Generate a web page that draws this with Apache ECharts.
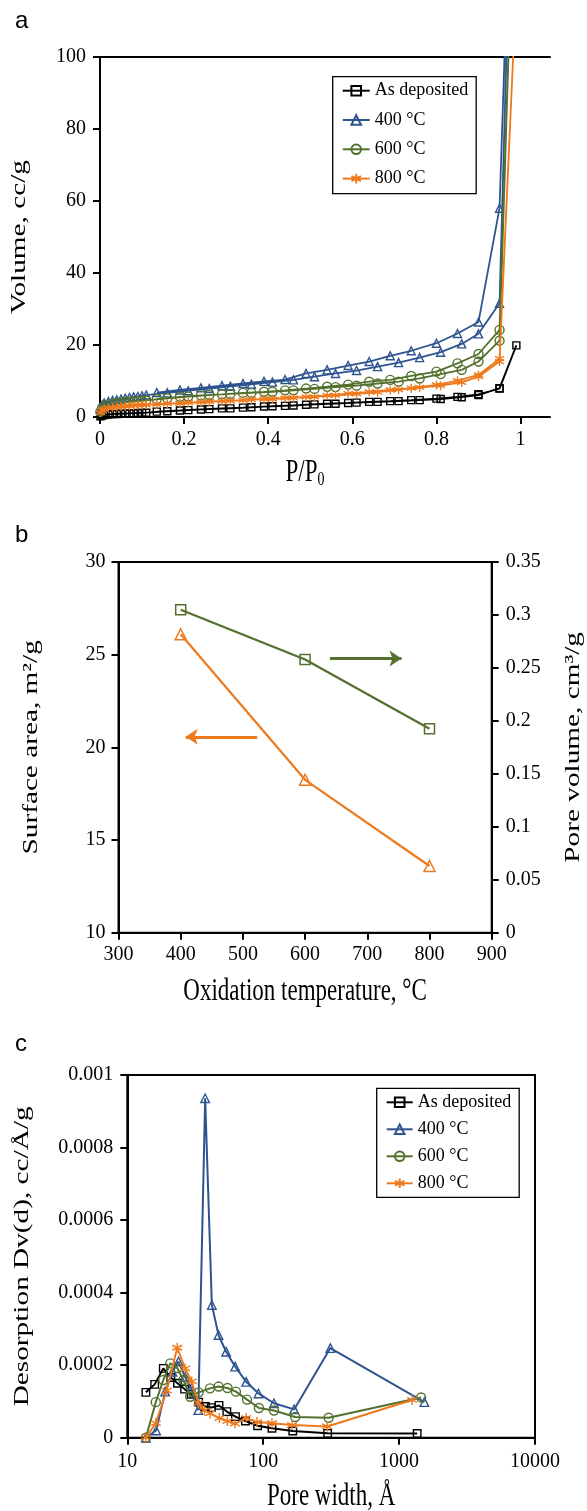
<!DOCTYPE html>
<html>
<head>
<meta charset="utf-8">
<script src="https://cdn.jsdelivr.net/npm/echarts@6/dist/echarts.min.js"></script>
<style>
  html, body { margin: 0; padding: 0; background: #fff; }
  #chart { width: 587px; height: 1511px; }
</style>
</head>
<body>
<div id="chart"></div>
<script>
// ---------- Panel a: N2 isotherms ----------
const adsP = [0.001, 0.005, 0.01, 0.02, 0.03, 0.04, 0.05, 0.06, 0.07, 0.08, 0.09, 0.10, 0.11, 0.16, 0.21, 0.26, 0.31, 0.36, 0.41, 0.46, 0.51, 0.56, 0.61, 0.66, 0.71, 0.76, 0.81, 0.86, 0.90, 0.95, 0.99];
const desP = [0.95, 0.90, 0.85, 0.80, 0.74, 0.69, 0.64, 0.59, 0.54, 0.49, 0.44, 0.39, 0.34, 0.29, 0.24, 0.19, 0.135];

const depAds  = [0.2, 0.4, 0.55, 0.7, 0.8, 0.85, 0.9, 0.95, 1.0, 1.05, 1.1, 1.15, 1.2, 1.6, 1.9, 2.2, 2.4, 2.7, 3.0, 3.2, 3.5, 3.7, 4.0, 4.2, 4.4, 4.7, 5.0, 5.5, 6.1, 8.0, 19.9];
const depDes  = [7.9, 6.3, 5.6, 5.1, 4.7, 4.4, 4.2, 3.9, 3.7, 3.4, 3.1, 2.9, 2.6, 2.4, 2.1, 1.8, 1.5];
const t400Ads = [2.0, 3.3, 3.9, 4.3, 4.6, 4.8, 5.0, 5.2, 5.4, 5.6, 5.7, 5.9, 6.1, 6.7, 7.3, 7.9, 8.5, 9.1, 9.7, 10.3, 11.2, 12.1, 12.9, 14.0, 15.1, 16.5, 18.0, 20.3, 23.1, 31.6, 200];
const t400Des = [58, 26.4, 23.2, 20.5, 18.4, 17.0, 15.4, 14.3, 13.1, 12.1, 10.4, 9.9, 9.3, 8.7, 8.1, 7.5, 6.8];
const t600Ads = [1.5, 2.6, 3.1, 3.5, 3.7, 3.9, 4.0, 4.1, 4.2, 4.3, 4.4, 4.5, 4.6, 5.2, 5.7, 6.1, 6.4, 6.7, 7.0, 7.4, 7.8, 8.3, 8.7, 9.3, 9.8, 10.7, 11.9, 13.1, 15.4, 21.2, 170];
const t600Des = [24.2, 17.5, 14.9, 12.6, 11.4, 10.3, 9.8, 9.0, 8.4, 7.9, 7.4, 7.0, 6.7, 6.3, 6.0, 5.6, 5.0];
const t800Ads = [1.2, 1.9, 2.2, 2.5, 2.7, 2.8, 2.9, 3.0, 3.1, 3.2, 3.3, 3.35, 3.4, 3.7, 4.0, 4.3, 4.5, 4.8, 5.0, 5.3, 5.6, 6.0, 6.4, 6.9, 7.6, 8.2, 8.7, 9.6, 11.2, 15.4, 120];
const t800Des = [16.2, 11.7, 10.1, 8.9, 8.0, 7.5, 7.0, 6.5, 6.0, 5.6, 5.3, 5.0, 4.7, 4.4, 4.1, 3.8, 3.5];

const aXTicks = [0, 0.2, 0.4, 0.6, 0.8, 1];

// ---------- Panel b ----------
const oxTemp = [400, 600, 800];
const surfaceArea = [26.1, 18.25, 13.6];
const poreVolume = [0.305, 0.258, 0.1925];
const arrowRight = [[640, 0.259], [755, 0.259]];   // annotation, right axis units
const arrowLeft  = [[523, 20.57], [408, 20.57]];   // annotation, left axis units

// ---------- Panel c: pore size distribution ----------
const depW  = [13.7, 15.9, 18.4, 20.9, 23.4, 26.4, 29.5, 33.5, 37.5, 41.5, 47.3, 54, 62.5, 74, 91, 116, 165, 298, 1358];
const depDv = [0.000125, 0.000147, 0.000191, 0.000166, 0.000150, 0.000134, 0.000120, 0.000098, 0.000086, 0.000083, 0.000089, 0.000072, 0.000058, 0.000046, 0.000033, 0.000026, 0.0000185, 0.000012, 0.0000115];
const w400  = [13.7, 16.3, 19, 21.5, 23.8, 26.6, 29.5, 33.3, 37.4, 41.9, 46.9, 53.4, 62.2, 75, 92.3, 120, 169, 312, 1535];
const dv400 = [0, 0.00002, 0.000127, 0.000182, 0.00021, 0.000168, 0.000136, 0.000076, 0.000936, 0.000366, 0.000283, 0.000237, 0.000196, 0.000154, 0.000122, 0.000095, 0.000078, 0.000247, 0.000098];
const w600  = [13.7, 16.2, 18.4, 20.7, 23.3, 25.9, 29, 33.5, 40.6, 47, 54.6, 63, 76, 93, 120, 172, 303, 1452];
const dv600 = [0, 0.000098, 0.000159, 0.000205, 0.000192, 0.000159, 0.000113, 0.000125, 0.000136, 0.000141, 0.000137, 0.000127, 0.000105, 0.000082, 0.000075, 0.000057, 0.000055, 0.000111];
const w800  = [13.7, 16.2, 19.5, 23.3, 26.6, 29.8, 33.3, 37, 40.6, 47.6, 54.5, 62, 75, 90, 116, 163, 296, 1247];
const dv800 = [0, 0.00004, 0.00013, 0.000248, 0.000191, 0.000155, 0.000095, 0.000075, 0.000067, 0.000054, 0.000046, 0.000039, 0.000054, 0.000043, 0.00004, 0.000035, 0.000031, 0.000104];

const names = ['As deposited', '400 \u00B0C', '600 \u00B0C', '800 \u00B0C'];

// ---------- styling ----------
const C_BLACK = '#000000', C_BLUE = '#2E5490', C_GREEN = '#53712D', C_ORANGE = '#EE7A1E';
const SERIF = '"Liberation Serif", "Times New Roman", serif';
const SANS = '"Liberation Sans", Arial, sans-serif';
const STAR = 'path://M5,0L5,10M0.7,2.5L9.3,7.5M9.3,2.5L0.7,7.5';
const STRETCH = 1.33;   // the reference text is vertically stretched
const styles = [
  { color: C_BLACK, symbol: 'rect', sizeA: 7, sizeC: 7.5 },
  { color: C_BLUE, symbol: 'triangle', sizeA: 8, sizeC: 8.5 },
  { color: C_GREEN, symbol: 'circle', sizeA: 9, sizeC: 9 },
  { color: C_ORANGE, symbol: STAR, sizeA: 9, sizeC: 10 }
];

function pairs(xs, ys) { return xs.map((x, i) => [x, ys[i]]); }
function iso(ads, des) { return pairs(adsP, ads).concat(pairs(desP, des)); }

const isoData = [iso(depAds, depDes), iso(t400Ads, t400Des), iso(t600Ads, t600Des), iso(t800Ads, t800Des)];
const psdData = [pairs(depW, depDv), pairs(w400, dv400), pairs(w600, dv600), pairs(w800, dv800)];

const axisLine = { show: true, lineStyle: { color: '#000', width: 2 } };
const axisTick = { show: true, length: 7, lineStyle: { color: '#000', width: 2 } };
const labelStyle = { color: '#000', fontFamily: SERIF, fontSize: 20 };

function lineSeries(i, data, xi, yi, size, lw) {
  const s = styles[i];
  return {
    type: 'line', name: names[i], data: data,
    xAxisIndex: xi, yAxisIndex: yi,
    symbol: s.symbol, symbolSize: size, showAllSymbol: true,
    lineStyle: { color: s.color, width: lw },
    itemStyle: { color: 'transparent', borderColor: s.color, borderWidth: 1.4 },
    emphasis: { disabled: true }, z: 3 + i
  };
}

const series = [];
for (let i = 0; i < 4; i++) series.push(lineSeries(i, isoData[i], 0, 0, styles[i].sizeA, 1.8));
series.push({
  type: 'line', name: 'Surface area', xAxisIndex: 2, yAxisIndex: 1,
  data: pairs(oxTemp, surfaceArea), symbol: 'triangle', symbolSize: 11,
  lineStyle: { color: C_ORANGE, width: 2.2 },
  itemStyle: { color: 'transparent', borderColor: C_ORANGE, borderWidth: 1.5 },
  markLine: {
    silent: true, symbol: ['none', 'arrow'], symbolSize: [12, 12],
    lineStyle: { color: C_ORANGE, width: 3, type: 'solid' }, label: { show: false },
    data: [[{ coord: arrowLeft[0] }, { coord: arrowLeft[1] }]]
  }
});
series.push({
  type: 'line', name: 'Pore volume', xAxisIndex: 2, yAxisIndex: 2,
  data: pairs(oxTemp, poreVolume), symbol: 'rect', symbolSize: 10,
  lineStyle: { color: C_GREEN, width: 2.2 },
  itemStyle: { color: 'transparent', borderColor: C_GREEN, borderWidth: 1.5 },
  markLine: {
    silent: true, symbol: ['none', 'arrow'], symbolSize: [12, 12],
    lineStyle: { color: C_GREEN, width: 3, type: 'solid' }, label: { show: false },
    data: [[{ coord: arrowRight[0] }, { coord: arrowRight[1] }]]
  }
});
for (let i = 0; i < 4; i++) series.push(lineSeries(i, psdData[i], 3, 3, styles[i].sizeC, 2));

const legendBase = {
  orient: 'vertical', data: names, backgroundColor: '#fff',
  borderColor: '#000', borderWidth: 1.3,
  itemHeight: 12, selectedMode: false,
  textStyle: { color: '#000', fontFamily: SERIF, fontSize: 18, lineHeight: 20 }
};

// grids (pixel boxes of the three plot areas)
const G = [
  { left: 100, top: 57, width: 450, height: 360 },
  { left: 118.5, top: 562, width: 373.2, height: 370.7 },
  { left: 127.3, top: 1075, width: 407.7, height: 362.7 }
];

// axis titles drawn as stretched text (the reference is vertically stretched)
function hTitle(text, cx, cy, rich) {
  return { type: 'text', x: cx, y: cy, scaleX: 1, scaleY: STRETCH, silent: true,
    style: { text: text, fontFamily: SERIF, fontSize: 23, fill: '#000', align: 'center', verticalAlign: 'middle', rich: rich } };
}
function vTitle(text, cx, cy) {
  return { type: 'text', x: cx, y: cy, rotation: Math.PI / 2, scaleX: STRETCH, scaleY: 1, silent: true,
    style: { text: text, fontFamily: SERIF, fontSize: 22, fill: '#000', align: 'center', verticalAlign: 'middle' } };
}

const titleSub = { s: { fontFamily: SERIF, fontSize: 14, fill: '#000', padding: [10, 0, 0, 0] } };

const option = {
  animation: false,
  backgroundColor: '#fff',
  title: [
    { text: 'a', left: 10, top: 4, textStyle: { fontFamily: SANS, fontSize: 24, fontWeight: 'normal', color: '#000' } },
    { text: 'b', left: 10, top: 518, textStyle: { fontFamily: SANS, fontSize: 24, fontWeight: 'normal', color: '#000' } },
    { text: 'c', left: 10, top: 1027, textStyle: { fontFamily: SANS, fontSize: 24, fontWeight: 'normal', color: '#000' } }
  ],
  graphic: [
    vTitle('Volume, cc/g', 19, G[0].top + G[0].height / 2),
    hTitle('P/P{s|0}', G[0].left + 205, 473, titleSub),
    vTitle('Surface area, m\u00B2/g', 31, G[1].top + G[1].height / 2),
    vTitle('Pore volume, cm\u00B3/g', 573, G[1].top + G[1].height / 2),
    hTitle('Oxidation temperature, \u00B0C', G[1].left + G[1].width / 2, 992),
    vTitle('Desorption Dv(d), cc/\u00C5/g', 22, G[2].top + G[2].height / 2),
    hTitle('Pore width, \u00C5', G[2].left + G[2].width / 2, 1497)
  ],
  legend: [
    Object.assign({}, legendBase, { left: 332.7, top: 76.7, itemWidth: 27, itemGap: 9.3, padding: [4, 8, 5, 9] }),
    Object.assign({}, legendBase, { left: 376.7, top: 1088.3, itemWidth: 26, itemGap: 7, padding: [4, 8, 4, 9] })
  ],
  grid: [
    G[0],
    Object.assign({ show: true, borderColor: '#000', borderWidth: 2 }, G[1]),
    Object.assign({ show: true, borderColor: '#000', borderWidth: 2 }, G[2])
  ],
  xAxis: [
    { gridIndex: 0, type: 'value', min: 0, max: 1.07,
      axisLine: axisLine,
      axisTick: Object.assign({}, axisTick, { customValues: aXTicks }),
      axisLabel: Object.assign({}, labelStyle, { margin: 13, customValues: aXTicks }),
      splitLine: { show: false } },
    { gridIndex: 0, type: 'value', position: 'top', min: 0, max: 1.07,
      axisLine: axisLine, axisTick: { show: false }, axisLabel: { show: false }, splitLine: { show: false } },
    { gridIndex: 1, type: 'value', min: 300, max: 900, interval: 100,
      axisLine: axisLine, axisTick: axisTick,
      axisLabel: Object.assign({}, labelStyle, { margin: 12 }), splitLine: { show: false } },
    { gridIndex: 2, type: 'log', logBase: 10, min: 10, max: 10000,
      axisLine: axisLine, axisTick: axisTick, minorTick: { show: false },
      axisLabel: Object.assign({}, labelStyle, { margin: 14, formatter: v => String(Math.round(v)) }),
      splitLine: { show: false } }
  ],
  yAxis: [
    { gridIndex: 0, type: 'value', min: 0, max: 100, interval: 20,
      axisLine: axisLine, axisTick: axisTick,
      axisLabel: Object.assign({}, labelStyle, { margin: 14 }), splitLine: { show: false } },
    { gridIndex: 1, type: 'value', min: 10, max: 30, interval: 5,
      axisLine: axisLine, axisTick: axisTick,
      axisLabel: Object.assign({}, labelStyle, { margin: 13 }), splitLine: { show: false } },
    { gridIndex: 1, type: 'value', position: 'right', min: 0, max: 0.35, interval: 0.05,
      axisLine: axisLine, axisTick: axisTick,
      axisLabel: Object.assign({}, labelStyle, { margin: 14 }), splitLine: { show: false } },
    { gridIndex: 2, type: 'value', min: 0, max: 0.001, interval: 0.0002,
      axisLine: axisLine, axisTick: axisTick,
      axisLabel: Object.assign({}, labelStyle, { margin: 14, formatter: v => v === 0 ? '0' : String(parseFloat(v.toFixed(4))) }),
      splitLine: { show: false } }
  ],
  series: series
};

const chart = echarts.init(document.getElementById('chart'), null, { renderer: 'canvas' });
chart.setOption(option);
</script>
</body>
</html>
